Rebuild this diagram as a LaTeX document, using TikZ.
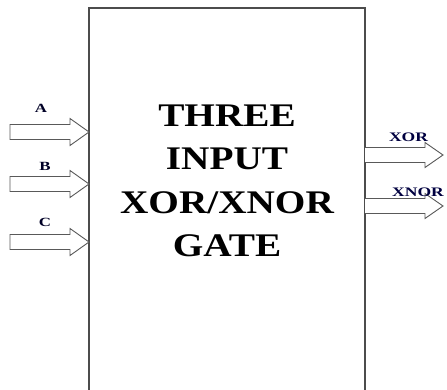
\documentclass[tikz,border=0pt]{standalone}
\usepackage{fontspec}
\setmainfont{Liberation Serif}
\newfontfamily\titlefont[FakeStretch=1.19]{Liberation Serif}
\newfontfamily\labelfont[FakeStretch=1.35]{Liberation Serif}
\begin{document}
\begin{tikzpicture}[x=1pt,y=-1pt,
  boxline/.style={draw=black!70,line width=1.3pt},
  blockarrow/.style={draw=black!65,line width=0.9pt,fill=white,line join=miter},
  inlabel/.style={font=\labelfont\bfseries\fontsize{12.5}{15}\selectfont,text=black!85!blue,inner sep=0pt},
  outlabel/.style={font=\labelfont\bfseries\fontsize{13}{15}\selectfont,text=black!75!blue,inner sep=0pt},
  title/.style={font=\titlefont\bfseries\fontsize{33}{43.5}\selectfont,align=center,inner sep=0pt}]
\useasboundingbox (0,0) rectangle (447,390);
\fill[white] (0,0) rectangle (447,390);
% gate box (bottom edge out of view)
\coordinate (bl) at (89,392);
\coordinate (tl) at (89,8);
\coordinate (tr) at (365,8);
\coordinate (br) at (365,392);
\draw[boxline] (bl) -- (tl) -- (tr) -- (br);
\node[title] (t) at (227,181) {THREE\\INPUT\\XOR/XNOR\\GATE};
% input arrows
\foreach \y in {132,184,242}{
  \draw[blockarrow] (10,\y-7.5) -- (70,\y-7.5) -- (70,\y-13.5) -- (89,\y) -- (70,\y+13.5) -- (70,\y+7.5) -- (10,\y+7.5) -- cycle;
}
\node[inlabel] (la) at (41,108) {A};
\node[inlabel] (lb) at (45,166) {B};
\node[inlabel] (lc) at (45,222) {C};
% output arrows
\foreach \y in {155,206}{
  \draw[blockarrow] (365,\y-7.5) -- (425,\y-7.5) -- (425,\y-12.5) -- (443,\y) -- (425,\y+12.5) -- (425,\y+7.5) -- (365,\y+7.5);
}
\node[outlabel] (lx) at (408.5,137) {XOR};
\node[outlabel] (lxn) at (418,192.5) {XNOR};
\end{tikzpicture}
\end{document}
